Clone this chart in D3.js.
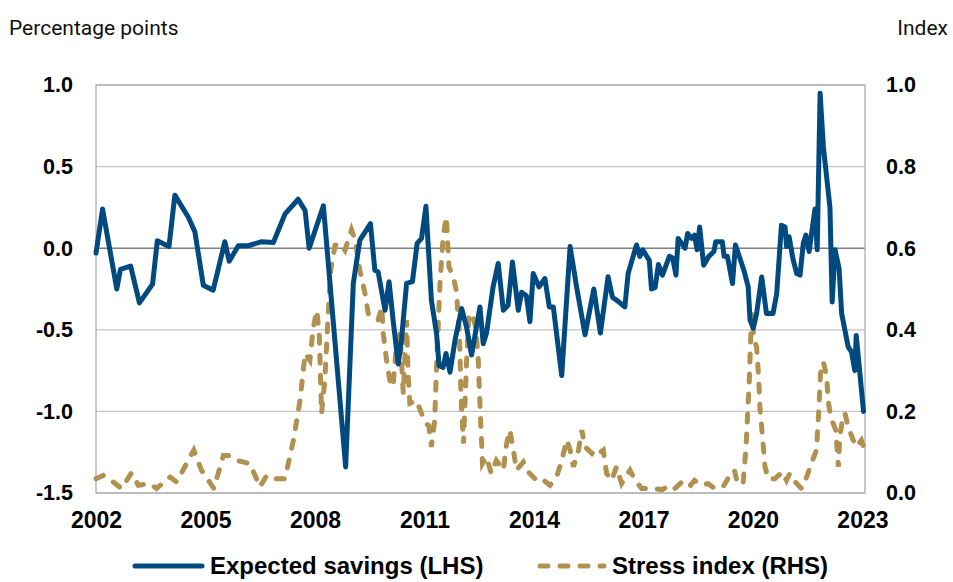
<!DOCTYPE html>
<html>
<head>
<meta charset="utf-8">
<script src="https://cdn.jsdelivr.net/npm/d3@7"></script>
<style>
  body { margin: 0; background: #fff; }
  svg { display: block; }
</style>
</head>
<body>
<div id="chart"></div>
<script>
// Expected savings (LHS), in decimal years
const savingsYears = [2002.00, 2002.18, 2002.57, 2002.67, 2002.95, 2003.19, 2003.55, 2003.68, 2004.00, 2004.16,
  2004.53, 2004.71, 2004.94, 2005.21, 2005.53, 2005.65, 2005.90, 2006.17, 2006.54, 2006.86,
  2007.18, 2007.54, 2007.73, 2007.84, 2008.23, 2008.84, 2009.05, 2009.23, 2009.52, 2009.64,
  2009.73, 2009.92, 2010.03, 2010.14, 2010.28, 2010.37, 2010.51, 2010.67, 2010.80, 2010.92,
  2011.04, 2011.19, 2011.33, 2011.40, 2011.51, 2011.59, 2011.70, 2011.84, 2012.02, 2012.15,
  2012.29, 2012.52, 2012.61, 2012.70, 2012.88, 2013.02, 2013.16, 2013.29, 2013.41, 2013.57,
  2013.66, 2013.79, 2013.89, 2013.98, 2014.14, 2014.30, 2014.42, 2014.53, 2014.76, 2014.99,
  2015.17, 2015.40, 2015.64, 2015.82, 2016.03, 2016.15, 2016.33, 2016.49, 2016.58, 2016.81,
  2016.90, 2016.98, 2017.16, 2017.22, 2017.32, 2017.41, 2017.52, 2017.71, 2017.80, 2017.89,
  2017.95, 2018.14, 2018.21, 2018.32, 2018.40, 2018.47, 2018.54, 2018.65, 2018.79, 2018.93,
  2018.98, 2019.16, 2019.21, 2019.30, 2019.44, 2019.52, 2019.64, 2019.75, 2019.87, 2019.92,
  2020.01, 2020.10, 2020.24, 2020.37, 2020.55, 2020.65, 2020.78, 2020.88, 2020.92, 2020.99,
  2021.10, 2021.20, 2021.29, 2021.38, 2021.45, 2021.54, 2021.63, 2021.70, 2021.76, 2021.84,
  2021.93, 2022.11, 2022.17, 2022.25, 2022.36, 2022.43, 2022.61, 2022.70, 2022.79, 2022.83,
  2023.03];
const savingsValues = [-0.03, 0.24, -0.25, -0.13, -0.11, -0.335, -0.22, 0.045, 0.01, 0.325,
  0.19, 0.10, -0.227, -0.257, 0.04, -0.08, 0.015, 0.015, 0.04, 0.035,
  0.21, 0.30, 0.23, 0.00, 0.26, -1.34, -0.215, 0.05, 0.15, -0.135,
  -0.145, -0.38, -0.205, -0.44, -0.71, -0.56, -0.216, -0.205, 0.03, 0.06,
  0.257, -0.32, -0.52, -0.72, -0.73, -0.645, -0.76, -0.56, -0.37, -0.48,
  -0.655, -0.36, -0.585, -0.52, -0.237, -0.094, -0.38, -0.35, -0.084, -0.38,
  -0.27, -0.29, -0.45, -0.155, -0.237, -0.186, -0.36, -0.36, -0.78, 0.01,
  -0.24, -0.53, -0.25, -0.52, -0.175, -0.30, -0.33, -0.36, -0.155, 0.02,
  -0.05, -0.01, -0.075, -0.25, -0.24, -0.10, -0.165, -0.05, -0.06, -0.165,
  0.06, 0.00, 0.09, 0.06, 0.08, -0.01, 0.13, -0.105, -0.05, -0.02,
  0.04, 0.04, -0.05, -0.05, -0.216, 0.02, -0.06, -0.135, -0.237, -0.44,
  -0.49, -0.40, -0.176, -0.40, -0.40, -0.28, 0.14, 0.13, 0.01, 0.07,
  -0.07, -0.155, -0.165, 0.03, 0.08, -0.02, 0.13, 0.24, -0.01, 0.95,
  0.62, 0.25, -0.33, -0.01, -0.125, -0.40, -0.605, -0.635, -0.75, -0.535,
  -1.00];

// Stress index (RHS)
const stressYears = [2002.00, 2002.20, 2002.47, 2002.70, 2002.97, 2003.16, 2003.48, 2003.66, 2004.03, 2004.21,
  2004.48, 2004.68, 2004.89, 2005.23, 2005.49, 2005.62, 2005.85, 2006.22, 2006.49, 2006.68,
  2006.86, 2007.18, 2007.41, 2007.59, 2007.73, 2007.86, 2007.95, 2008.05, 2008.12, 2008.18,
  2008.27, 2008.34, 2008.43, 2008.55, 2008.68, 2008.82, 2009.00, 2009.10, 2009.23, 2009.37,
  2009.46, 2009.60, 2009.73, 2009.83, 2009.87, 2009.96, 2010.05, 2010.14, 2010.24, 2010.33,
  2010.42, 2010.51, 2010.55, 2010.60, 2010.78, 2010.92, 2011.04, 2011.12, 2011.19, 2011.28,
  2011.33, 2011.42, 2011.51, 2011.60, 2011.67, 2011.78, 2011.87, 2011.96, 2012.00, 2012.07,
  2012.15, 2012.22, 2012.33, 2012.40, 2012.47, 2012.53, 2012.59, 2012.70, 2012.83, 2012.97,
  2013.16, 2013.25, 2013.34, 2013.45, 2013.52, 2013.71, 2013.84, 2014.07, 2014.21, 2014.44,
  2014.62, 2014.76, 2014.90, 2014.99, 2015.08, 2015.22, 2015.31, 2015.40, 2015.59, 2015.68,
  2015.77, 2015.90, 2015.99, 2016.13, 2016.26, 2016.40, 2016.63, 2016.77, 2016.95, 2017.27,
  2017.51, 2017.72, 2017.86, 2018.10, 2018.29, 2018.40, 2018.58, 2018.77, 2018.95, 2019.18,
  2019.40, 2019.49, 2019.58, 2019.73, 2019.81, 2019.90, 2019.96, 2020.03, 2020.10, 2020.15,
  2020.19, 2020.27, 2020.33, 2020.42, 2020.60, 2020.81, 2020.92, 2021.01, 2021.12, 2021.33,
  2021.47, 2021.60, 2021.74, 2021.81, 2021.85, 2021.93, 2022.02, 2022.06, 2022.13, 2022.20,
  2022.27, 2022.34, 2022.38, 2022.46, 2022.52, 2022.61, 2022.75, 2022.84, 2022.97, 2023.03];
const stressValues = [0.035, 0.043, 0.027, 0.011, 0.049, 0.019, 0.023, 0.011, 0.039, 0.027,
  0.072, 0.105, 0.056, 0.011, 0.092, 0.092, 0.080, 0.072, 0.015, 0.043,
  0.035, 0.035, 0.130, 0.227, 0.342, 0.325, 0.403, 0.448, 0.383, 0.195,
  0.276, 0.400, 0.546, 0.607, 0.612, 0.595, 0.645, 0.620, 0.546, 0.489,
  0.440, 0.428, 0.424, 0.456, 0.391, 0.326, 0.276, 0.260, 0.375, 0.391,
  0.244, 0.424, 0.293, 0.220, 0.227, 0.195, 0.170, 0.165, 0.113, 0.178,
  0.309, 0.505, 0.628, 0.677, 0.554, 0.534, 0.497, 0.391, 0.235, 0.121,
  0.317, 0.440, 0.432, 0.407, 0.334, 0.195, 0.072, 0.088, 0.048, 0.080,
  0.056, 0.121, 0.154, 0.097, 0.056, 0.076, 0.052, 0.031, 0.035, 0.019,
  0.039, 0.080, 0.130, 0.105, 0.064, 0.105, 0.154, 0.113, 0.097, 0.105,
  0.097, 0.105, 0.048, 0.031, 0.064, 0.023, 0.056, 0.031, 0.011, 0.011,
  0.008, 0.019, 0.011, 0.031, 0.019, 0.031, 0.019, 0.023, 0.011, 0.015,
  0.048, 0.056, 0.023, 0.023, 0.113, 0.276, 0.440, 0.375, 0.358, 0.293,
  0.211, 0.129, 0.064, 0.035, 0.035, 0.052, 0.031, 0.048, 0.031, 0.011,
  0.039, 0.072, 0.105, 0.211, 0.293, 0.321, 0.285, 0.227, 0.186, 0.170,
  0.154, 0.064, 0.137, 0.186, 0.195, 0.162, 0.129, 0.113, 0.129, 0.113];

const yearTicks = [2002, 2005, 2008, 2011, 2014, 2017, 2020, 2023];
const leftTicks = [-1.5, -1.0, -0.5, 0.0, 0.5, 1.0];
const rightTicks = [0.0, 0.2, 0.4, 0.6, 0.8, 1.0];

const seriesNames = ['Expected savings (LHS)', 'Stress index (RHS)'];

const width = 953, height = 582;
const margin = { top: 85, right: 88, bottom: 89, left: 96 };
const blue = '#004a80';
const gold = '#b09150';
const tickFont = 'Liberation Sans, Arial, sans-serif';

const svg = d3.select('#chart').append('svg')
  .attr('width', width)
  .attr('height', height);

const x = d3.scaleLinear()
  .domain([2002, 2023.07])
  .range([margin.left, width - margin.right]);
const yLeft = d3.scaleLinear()
  .domain([-1.5, 1.0])
  .range([height - margin.bottom, margin.top]);
const yRight = d3.scaleLinear()
  .domain([0, 1.0])
  .range([height - margin.bottom, margin.top]);

// plain hyphen for negatives, like the original
const fmt1 = d => d.toFixed(1);

// gridlines (from the left scale)
svg.append('g')
  .selectAll('line')
  .data(leftTicks)
  .join('line')
  .attr('x1', margin.left)
  .attr('x2', width - margin.right)
  .attr('y1', d => yLeft(d))
  .attr('y2', d => yLeft(d))
  .attr('stroke', d => d === 0 ? '#7f7f7f' : '#c4c4c4')
  .attr('stroke-width', d => d === 0 ? 1.6 : 1.2);

// plot frame
svg.append('rect')
  .attr('x', margin.left)
  .attr('y', margin.top)
  .attr('width', width - margin.left - margin.right)
  .attr('height', height - margin.top - margin.bottom)
  .attr('fill', 'none')
  .attr('stroke', '#a6a6a6')
  .attr('stroke-width', 1.2);

// left axis
const leftAxis = svg.append('g')
  .attr('transform', `translate(${margin.left},0)`)
  .call(d3.axisLeft(yLeft).tickValues(leftTicks).tickFormat(fmt1).tickSize(0).tickPadding(23));
leftAxis.select('.domain').remove();
leftAxis.selectAll('text')
  .style('font-family', tickFont)
  .style('font-weight', 'bold')
  .style('font-size', '21.5px')
  .attr('fill', '#000');

// right axis
const rightAxis = svg.append('g')
  .attr('transform', `translate(${width - margin.right},0)`)
  .call(d3.axisRight(yRight).tickValues(rightTicks).tickFormat(fmt1).tickSize(0).tickPadding(21));
rightAxis.select('.domain').remove();
rightAxis.selectAll('text')
  .style('font-family', tickFont)
  .style('font-weight', 'bold')
  .style('font-size', '21.5px')
  .attr('fill', '#000');

// bottom axis
const bottomAxis = svg.append('g')
  .attr('transform', `translate(0,${height - margin.bottom})`)
  .call(d3.axisBottom(x).tickValues(yearTicks).tickFormat(d3.format('d')).tickSize(0).tickPadding(19));
bottomAxis.select('.domain').remove();
bottomAxis.selectAll('text')
  .style('font-family', tickFont)
  .style('font-weight', 'bold')
  .style('font-size', '23px')
  .attr('fill', '#000');

// axis titles
svg.append('text')
  .attr('x', 9)
  .attr('y', 35)
  .style('font-family', 'Roboto, sans-serif')
  .style('font-size', '21px')
  .attr('fill', '#111')
  .text('Percentage points');
svg.append('text')
  .attr('x', 948)
  .attr('y', 35)
  .attr('text-anchor', 'end')
  .style('font-family', 'Roboto, sans-serif')
  .style('font-size', '21px')
  .attr('fill', '#111')
  .text('Index');

// series
const savingsData = savingsYears.map((yr, i) => ({ yr, v: savingsValues[i] }));
const stressData = stressYears.map((yr, i) => ({ yr, v: stressValues[i] }));

svg.append('path')
  .datum(stressData)
  .attr('fill', 'none')
  .attr('stroke', gold)
  .attr('stroke-width', 5)
  .attr('stroke-linecap', 'round')
  .attr('stroke-dasharray', '8,12')
  .attr('d', d3.line().x(d => x(d.yr)).y(d => yRight(d.v)));

svg.append('path')
  .datum(savingsData)
  .attr('fill', 'none')
  .attr('stroke', blue)
  .attr('stroke-width', 5)
  .attr('stroke-linejoin', 'round')
  .attr('stroke-linecap', 'round')
  .attr('d', d3.line().x(d => x(d.yr)).y(d => yLeft(d.v)));

// legend (kept just inside the bottom edge)
const legendY = 566;
const legendItems = [
  { name: seriesNames[0], color: blue, dash: null, x0: 135, x1: 202, tx: 210 },
  { name: seriesNames[1], color: gold, dash: '8,12', x0: 540, x1: 604, tx: 612 }
];
const legend = svg.append('g');
legend.selectAll('line')
  .data(legendItems)
  .join('line')
  .attr('x1', d => d.x0)
  .attr('x2', d => d.x1)
  .attr('y1', legendY)
  .attr('y2', legendY)
  .attr('stroke', d => d.color)
  .attr('stroke-width', 5)
  .attr('stroke-linecap', 'round')
  .attr('stroke-dasharray', d => d.dash);
legend.selectAll('text')
  .data(legendItems)
  .join('text')
  .attr('x', d => d.tx)
  .attr('y', legendY + 8)
  .style('font-family', tickFont)
  .style('font-weight', 'bold')
  .style('font-size', '24px')
  .attr('fill', '#000')
  .text(d => d.name);
</script>
</body>
</html>
